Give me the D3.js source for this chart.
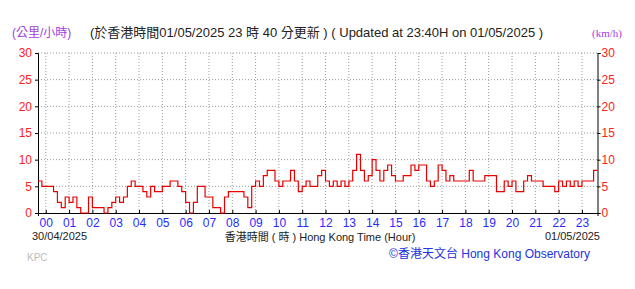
<!DOCTYPE html>
<html>
<head>
<meta charset="utf-8">
<script src="https://cdn.jsdelivr.net/npm/d3@7"></script>
<style>
  body { margin: 0; background: #fff; }
  svg text { font-family: "Liberation Sans", Arial, "Noto Sans CJK TC", sans-serif; }
</style>
</head>
<body>
<div id="chart"></div>
<script>
// 10-minute wind speed readings (km/h), 23:40 30/04 to 23:40 01/05
const windSpeed = [
  6,5,5,5,4,2,1,3,2,3,
  1,0,0,3,1,1,1,0,1,2,
  3,2,3,5,6,5,5,4,3,5,
  4,4,5,5,6,6,5,4,2,0,
  2,5,5,3,3,1,1,0,3,4,
  4,4,4,3,1,5,6,5,7,8,
  8,6,5,6,6,8,6,4,5,6,
  5,5,7,8,6,5,6,5,6,5,
  6,8,11,8,6,7,10,8,6,8,
  9,7,6,6,7,7,9,8,9,9,
  6,5,6,9,8,6,7,6,6,6,
  6,8,6,6,6,7,7,7,4,4,
  6,5,6,4,4,6,7,6,6,6,
  5,5,5,4,6,5,6,5,6,5,
  6,6,6,8,8
];
const yTicks = [0, 5, 10, 15, 20, 25, 30];
const startTime = new Date(2025, 3, 30, 23, 40);
const endTime = new Date(2025, 4, 1, 23, 40);
const stepMinutes = 10;

const titleZh = '(於香港時間01/05/2025 23 時 40 分更新 )';
const titleEn = '( Updated at 23:40H on 01/05/2025 )';

const width = 635, height = 289;
const margin = { left: 38, right: 37.5, top: 53, bottom: 76 };

const svg = d3.select('#chart').append('svg')
  .attr('width', width)
  .attr('height', height);

const x = d3.scaleTime()
  .domain([startTime, endTime])
  .range([margin.left, width - margin.right]);

const y = d3.scaleLinear()
  .domain([0, 30])
  .range([height - margin.bottom, margin.top]);

const data = windSpeed.map((v, i) => ({
  t: new Date(startTime.getTime() + i * stepMinutes * 60000),
  v: v
}));

const hours = x.ticks(d3.timeHour.every(1));

// dotted grid
svg.append('g')
  .selectAll('line')
  .data(yTicks.filter(d => d > 0))
  .join('line')
  .attr('x1', margin.left).attr('x2', width - margin.right)
  .attr('y1', d => y(d)).attr('y2', d => y(d))
  .attr('stroke', '#999')
  .attr('stroke-dasharray', '1,2');

svg.append('g')
  .selectAll('line')
  .data(hours)
  .join('line')
  .attr('x1', d => x(d)).attr('x2', d => x(d))
  .attr('y1', y(30)).attr('y2', y(0))
  .attr('stroke', '#999')
  .attr('stroke-dasharray', '1,2');

// axes
const leftAxis = svg.append('g')
  .attr('transform', `translate(${margin.left},0)`)
  .call(d3.axisLeft(y).tickValues(yTicks).tickSize(3).tickPadding(3));
const rightAxis = svg.append('g')
  .attr('transform', `translate(${width - margin.right},0)`)
  .call(d3.axisRight(y).tickValues(yTicks).tickSize(3).tickPadding(1));
const bottomAxis = svg.append('g')
  .attr('transform', `translate(0,${y(0)})`)
  .call(d3.axisBottom(x).ticks(d3.timeHour.every(1)).tickFormat(d3.timeFormat('%H')).tickSize(3).tickPadding(2));

[leftAxis, rightAxis].forEach(g => {
  g.select('.domain').attr('stroke', '#000');
  g.selectAll('.tick line').attr('stroke', '#000');
  g.selectAll('.tick text')
    .attr('fill', '#ff2020')
    .style('font-size', '12px');
});
bottomAxis.select('.domain').attr('stroke', '#000');
bottomAxis.selectAll('.tick line').attr('stroke', '#000').attr('y2', -3);
bottomAxis.selectAll('.tick text')
  .attr('fill', '#2b2bff')
  .style('font-size', '12px');

// wind line
const line = d3.line()
  .x(d => x(d.t))
  .y(d => y(d.v))
  .curve(d3.curveStepAfter);

svg.append('path')
  .datum(data)
  .attr('d', line)
  .attr('fill', 'none')
  .attr('stroke', '#e80000')
  .attr('stroke-width', 1.2);

// titles and labels
svg.append('text')
  .attr('x', 12).attr('y', 37)
  .attr('fill', '#a040e0')
  .style('font-size', '12px')
  .text('(公里/小時)');

svg.append('text')
  .attr('x', 592).attr('y', 37)
  .attr('fill', '#a040e0')
  .style('font-size', '11px')
  .style('font-family', '"Liberation Serif", serif')
  .text('(km/h)');

svg.append('text')
  .attr('x', 90).attr('y', 37)
  .attr('fill', '#222')
  .style('font-size', '13px')
  .text(titleZh + ' ' + titleEn);

svg.append('text')
  .attr('x', 32).attr('y', 240)
  .attr('fill', '#222')
  .style('font-size', '11px')
  .text('30/04/2025');

svg.append('text')
  .attr('x', 600).attr('y', 240)
  .attr('text-anchor', 'end')
  .attr('fill', '#222')
  .style('font-size', '11px')
  .text('01/05/2025');

svg.append('text')
  .attr('x', 320).attr('y', 241)
  .attr('text-anchor', 'middle')
  .attr('fill', '#222')
  .style('font-size', '11px')
  .text('香港時間 ( 時 ) Hong Kong Time (Hour)');

svg.append('text')
  .attr('x', 27).attr('y', 261)
  .attr('fill', '#bbb')
  .style('font-size', '10px')
  .text('KPC');

svg.append('text')
  .attr('x', 590).attr('y', 258)
  .attr('text-anchor', 'end')
  .attr('fill', '#2233dd')
  .style('font-size', '12px')
  .text('©香港天文台 Hong Kong Observatory');
</script>
</body>
</html>
